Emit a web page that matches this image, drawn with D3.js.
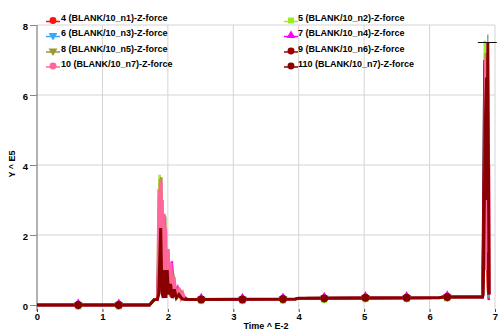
<!DOCTYPE html>
<html>
<head>
<meta charset="utf-8">
<script src="https://cdn.jsdelivr.net/npm/d3@7"></script>
<style>
  html, body { margin: 0; padding: 0; background: #fff; }
  svg { display: block; }
  text { font-family: "Liberation Sans", Arial, sans-serif; font-weight: bold; font-size: 9px; fill: #000; }
</style>
</head>
<body>
<svg id="chart" width="498" height="330"></svg>
<script>
// Axis ticks
const xTicks = [0, 1, 2, 3, 4, 5, 6, 7];
const yTicks = [0, 2, 4, 6, 8];

// Shared quiet segments (time in E-2, force in E5)
const preT = [0, 1.72, 1.79, 1.84];
const preV = [0, 0, 0.15, 0.16];
const plateauT = [2.30, 3.95, 4.00, 6.15, 6.20, 6.81];
const plateauV = [0.16, 0.17, 0.19, 0.21, 0.23, 0.23];

// Series names, colours and marker symbols
const names = ["4 (BLANK/10_n1)-Z-force", "5 (BLANK/10_n2)-Z-force", "6 (BLANK/10_n3)-Z-force",
  "7 (BLANK/10_n4)-Z-force", "8 (BLANK/10_n5)-Z-force", "9 (BLANK/10_n6)-Z-force",
  "10 (BLANK/10_n7)-Z-force", "110 (BLANK/10_n7)-Z-force"];
const colors = ["#ff1010", "#99ee22", "#33aaff", "#ff00ff", "#999933", "#990000", "#ff6699", "#880000"];
const symbols = ["circle", "square", "down", "up", "down", "circle", "circle", "circle"];

// First impact burst, per series
const burstT = [
  [1.86, 1.88, 1.90, 1.93, 1.96, 2.00, 2.05, 2.12, 2.20],
  [1.86, 1.875, 1.89, 1.92, 1.95, 1.99, 2.04, 2.10, 2.18],
  [1.86, 1.885, 1.91, 1.94, 1.98, 2.03, 2.09, 2.16],
  [1.87, 1.90, 1.93, 1.98, 2.03, 2.06, 2.10, 2.15, 2.20],
  [1.86, 1.88, 1.90, 1.92, 1.94, 1.96, 1.98, 2.00, 2.04, 2.08, 2.12, 2.18, 2.23, 2.27],
  [1.87, 1.89, 1.92, 1.95, 1.99, 2.04, 2.10],
  [1.86, 1.87, 1.88, 1.89, 1.90, 1.91, 1.92, 1.93, 1.94, 1.95, 1.97, 1.99, 2.01, 2.03, 2.05, 2.07, 2.10, 2.13, 2.17, 2.20, 2.23, 2.26],
  [1.86, 1.875, 1.89, 1.91, 1.93, 1.95, 1.97, 1.99, 2.01, 2.04, 2.07, 2.10, 2.13, 2.17, 2.22]
];
const burstV = [
  [1.5, 3.2, 0.4, 2.0, 0.5, 1.2, 0.3, 0.5, 0.2],
  [3.0, 3.72, 0.4, 2.6, 0.5, 1.3, 0.3, 0.6, 0.2],
  [2.0, 3.4, 0.5, 2.2, 0.4, 1.1, 0.3, 0.4],
  [2.5, 2.9, 0.5, 1.6, 0.4, 1.25, 0.3, 0.5, 0.18],
  [1.5, 3.2, 3.65, 0.6, 2.6, 2.5, 0.5, 1.5, 0.3, 0.9, 0.3, 0.45, 0.32, 0.17],
  [1.8, 0.4, 1.5, 0.3, 0.9, 0.3, 0.4],
  [3.3, 0.5, 3.6, 0.4, 3.5, 0.6, 3.0, 0.5, 2.6, 0.4, 2.2, 0.5, 1.6, 0.3, 1.2, 0.3, 0.8, 0.2, 0.5, 0.2, 0.35, 0.16],
  [0.3, 1.2, 2.2, 0.35, 0.2, 1.0, 0.2, 1.0, 0.3, 0.6, 0.2, 0.45, 0.2, 0.3, 0.17]
];

// Final impact, per series
const endT = [
  [6.83, 6.85, 6.87, 6.89, 6.905],
  [6.83, 6.845, 6.86, 6.88, 6.90],
  [6.84, 6.86, 6.88, 6.90],
  [6.84, 6.86, 6.88, 6.905],
  [6.84, 6.86, 6.87, 6.89, 6.90],
  [6.84, 6.86, 6.88, 6.90],
  [6.83, 6.85, 6.86, 6.87, 6.88, 6.89, 6.90, 6.91, 6.92],
  [6.82, 6.85, 6.87, 6.88, 6.89, 6.90, 6.91]
];
const endV = [
  [3.0, 7.2, 2.0, 0.5, 0.14],
  [2.0, 7.55, 1.5, 5.0, 0.3],
  [6.8, 1.0, 6.0, 0.2],
  [5.0, 7.0, 3.0, 0.3],
  [3.0, 7.2, 1.0, 6.5, 0.3],
  [7.0, 2.0, 6.8, 0.3],
  [1.0, 7.0, 1.0, 7.2, 2.0, 6.5, 1.5, 4.0, 0.3],
  [0.3, 5.0, 6.5, 3.0, 7.5, 4.0, 0.3]
];

// Marker positions along the quiet segments
const markerT = [0.63, 1.25, 2.51, 3.14, 3.76, 4.39, 5.02, 5.65, 6.27];
const markerV = [0, 0, 0.16, 0.16, 0.17, 0.19, 0.21, 0.21, 0.23];

const series = names.map((name, i) => {
  const pts = [];
  preT.forEach((t, k) => pts.push([t, preV[k]]));
  burstT[i].forEach((t, k) => pts.push([t, burstV[i][k]]));
  plateauT.forEach((t, k) => pts.push([t, plateauV[k]]));
  endT[i].forEach((t, k) => pts.push([t, endV[i][k]]));
  return { name, color: colors[i], symbol: symbols[i], points: pts };
});

const svg = d3.select("#chart");
const plotLeft = 37, plotRight = 495, plotTop = 25, plotBottom = 309;
const x = d3.scaleLinear().domain([0, 7]).range([plotLeft, plotRight]);
const y = d3.scaleLinear().domain([0, 8]).range([305, plotTop]);

// Grid
const grid = svg.append("g");
grid.selectAll(".gx").data(xTicks.filter(d => d > 0 && d < 7)).join("line")
  .attr("x1", d => x(d)).attr("x2", d => x(d)).attr("y1", plotTop).attr("y2", plotBottom)
  .attr("stroke", "#d4d4d4").attr("stroke-width", 1);
grid.selectAll(".gy").data(yTicks.filter(d => d > 0)).join("line")
  .attr("x1", plotLeft).attr("x2", plotRight).attr("y1", d => y(d)).attr("y2", d => y(d))
  .attr("stroke", "#d4d4d4").attr("stroke-width", 1);
grid.append("line").attr("x1", plotRight).attr("x2", plotRight).attr("y1", plotTop).attr("y2", plotBottom)
  .attr("stroke", "#d4d4d4");

// Axes
const yAxis = svg.append("g").attr("transform", `translate(${plotLeft},0)`)
  .call(d3.axisLeft(y).tickValues(yTicks).tickSize(7).tickPadding(2).tickFormat(d3.format("d")));
yAxis.select(".domain").attr("d", `M0,${plotTop}V${plotBottom + 2}`).attr("stroke", "#999").attr("stroke-width", 1.5);
yAxis.selectAll(".tick line").attr("stroke", "#888");
yAxis.selectAll("text").style("font-size", "9.5px").attr("dy", "0.45em");

const xAxis = svg.append("g").attr("transform", `translate(0,${plotBottom})`)
  .call(d3.axisBottom(x).tickValues(xTicks).tickSize(3).tickPadding(1).tickFormat(d3.format("d")));
xAxis.select(".domain").remove();
xAxis.selectAll(".tick line").attr("stroke", "#444");
xAxis.selectAll("text").style("font-size", "9.5px");

svg.append("text").attr("transform", "translate(15,164) rotate(-90)")
  .attr("text-anchor", "middle").text("Y ^ E5");
svg.append("text").attr("x", 266).attr("y", 329).attr("text-anchor", "middle").text("Time ^ E-2");

// Symbols
function symbolPath(kind, scale) {
  const k = scale || 1;
  if (kind === "circle") return d3.symbol(d3.symbolCircle, 38 * k)();
  if (kind === "square") return d3.symbol(d3.symbolSquare, 36 * k)();
  return d3.symbol(d3.symbolTriangle, 34 * k)();
}
function symbolRot(kind) { return kind === "down" ? " rotate(180)" : ""; }

// Lines
const line = d3.line().x(d => x(d[0])).y(d => y(d[1]));
const plot = svg.append("g");
series.forEach((s, i) => {
  plot.append("path").datum(s.points).attr("d", line)
    .attr("fill", "none").attr("stroke", s.color)
    .attr("stroke-width", i === 7 ? 3 : 2.5).attr("stroke-linejoin", "miter");
});
// Markers, drawn in series order so the last series sits on top
series.forEach((s, i) => {
  const offs = s.symbol === "up" ? -1.5 : (s.symbol === "square" ? 1.5 : 0);
  plot.selectAll(null).data(markerT).join("path")
    .attr("d", symbolPath(s.symbol, i === 7 ? 1.3 : 1))
    .attr("transform", (t, k) => `translate(${x(t)},${y(markerV[k]) + offs})${symbolRot(s.symbol)}`)
    .attr("fill", s.color);
});

// Peak cursor on the last series
const last = series[7].points;
const peak = last.reduce((a, b) => (b[1] > a[1] ? b : a));
svg.append("line").attr("x1", x(peak[0])).attr("x2", x(peak[0]))
  .attr("y1", y(peak[1]) - 8).attr("y2", y(peak[1])).attr("stroke", "#999").attr("stroke-width", 1.5);
svg.append("line").attr("x1", x(peak[0]) - 10).attr("x2", x(peak[0]) + 9)
  .attr("y1", y(peak[1])).attr("y2", y(peak[1])).attr("stroke", "#111").attr("stroke-width", 1);

// Legend
const legend = svg.append("g");
const order = [[0, 2, 4, 6], [1, 3, 5, 7]];
const colX = [53, 291];
const textX = [61, 298];
const rowY = [21, 36, 51.5, 66.5];
order.forEach((col, c) => {
  col.forEach((si, r) => {
    const s = series[si];
    const g = legend.append("g");
    g.append("line").attr("x1", colX[c] - 7).attr("x2", colX[c] + 7)
      .attr("y1", rowY[r] + 0.5).attr("y2", rowY[r] + 0.5).attr("stroke", s.color).attr("stroke-width", 1.5);
    g.append("path").attr("d", symbolPath(s.symbol))
      .attr("transform", `translate(${colX[c]},${rowY[r] - 0.5})${symbolRot(s.symbol)}`)
      .attr("fill", s.color);
    g.append("text").attr("x", textX[c]).attr("y", rowY[r]).text(s.name);
  });
});
</script>
</body>
</html>
